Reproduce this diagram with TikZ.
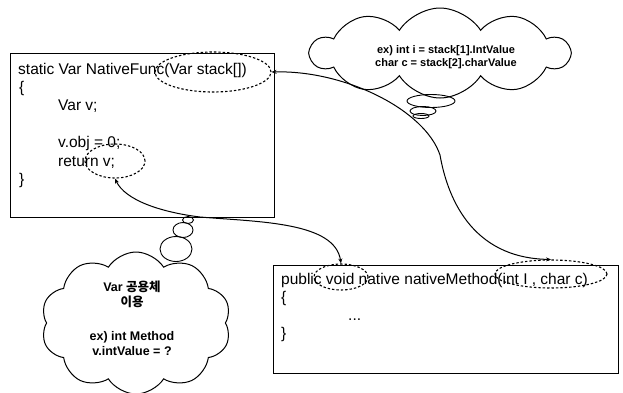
\documentclass[tikz,border=0pt]{standalone}
\usepackage{fontspec}
\setmainfont{Liberation Sans}
\newfontfamily\krfont{Noto Sans CJK KR}
\usetikzlibrary{shapes.geometric,shapes.symbols,arrows.meta}

\begin{document}
\begin{tikzpicture}[x=1pt,y=-1pt,
  box/.style={draw, line width=1.1pt, rectangle, inner sep=0pt},
  codetxt/.style={anchor=base west, inner sep=0pt, font=\fontsize{15.5}{18}\selectfont},
  ring/.style={draw, dash pattern=on 2.4pt off 2pt, line width=1.1pt, ellipse, inner sep=0pt},
  puff/.style={draw, line width=1pt, cloud, cloud puffs=10, cloud puff arc=115, cloud ignores aspect, inner sep=0pt},
  bubble/.style={draw, line width=0.9pt, ellipse, inner sep=0pt},
  smalltxt/.style={anchor=base, inner sep=0pt, font=\fontsize{11}{13}\selectfont\bfseries},
  midtxt/.style={anchor=base, inner sep=0pt, font=\fontsize{12.5}{15}\selectfont\bfseries},
  link/.style={line width=1pt, {Stealth[length=5pt,width=4pt]}-{Stealth[length=5pt,width=4pt]}}
]
\useasboundingbox (0,0) rectangle (623,392);

% boxes
\node[box, minimum width=264pt, minimum height=164pt, anchor=north west] (lbox) at (10,53) {};
\node[box, minimum width=345pt, minimum height=108pt, anchor=north west] (rbox) at (273,265) {};

% code in left box
\node[codetxt] (l1) at (18,74) {static Var NativeFunc(Var stack[])};
\node[codetxt] (l2) at (19,92) {\{};
\node[codetxt] (l3) at (58,110) {Var v;};
\node[codetxt] (l4) at (58,147) {v.obj = 0;};
\node[codetxt] (l5) at (58,166) {return v;};
\node[codetxt] (l6) at (19,184) {\}};

% code in right box
\node[codetxt] (r1) at (281,284) {public void native nativeMethod(int I , char c)};
\node[codetxt] (r2) at (281,302) {\{};
\node[codetxt] (r3) at (348,320) {...};
\node[codetxt] (r4) at (281,338) {\}};

% dashed rings
\node[ring, minimum width=116pt, minimum height=40pt] (e1) at (213,72) {};
\node[ring, minimum width=60pt, minimum height=34pt] (e2) at (115,161) {};
\node[ring, minimum width=54pt, minimum height=26pt] (e3) at (341,277) {};
\node[ring, minimum width=112pt, minimum height=28pt] (e4) at (551,274) {};

% top cloud
\node[puff, minimum width=258pt, minimum height=90pt] (c1) at (440,53) {};
\node[smalltxt] (c1a) at (446,53) {ex) int i = stack[1].IntValue};
\node[smalltxt] (c1b) at (446,66) {char c = stack[2].charValue};
\node[bubble, minimum width=48pt, minimum height=13pt] (b1) at (431,101) {};
\node[bubble, minimum width=26pt, minimum height=9pt] (b2) at (423,111) {};
\node[bubble, minimum width=16pt, minimum height=5pt] (b3) at (421,116) {};

% left cloud
\node[puff, minimum width=190pt, minimum height=142pt] (c2) at (136,323) {};
\node[midtxt] (c2a) at (132,291) {Var {\krfont 공용체}};
\node[midtxt] (c2b) at (132,306) {{\krfont 이용}};
\node[midtxt] (c2c) at (132,340) {ex) int Method};
\node[midtxt] (c2d) at (132,355) {v.intValue = ?};
\node[bubble, minimum width=11pt, minimum height=7pt] (b4) at (188,220) {};
\node[bubble, minimum width=20pt, minimum height=15pt] (b5) at (183,230) {};
\node[bubble, minimum width=32pt, minimum height=25pt] (b6) at (176,249) {};

% connectors
\coordinate (pA) at (200,217);
\coordinate (pB) at (440,155);
\draw[link] (e2.south) .. controls (125,200) and (160,212) .. (pA)
  .. controls (260,222) and (335,222) .. (e3.north);
\draw[link] (e1.east) .. controls (345,70) and (425,110) .. (pB)
  .. controls (447,195) and (470,258) .. (e4.north);
\end{tikzpicture}
\end{document}
